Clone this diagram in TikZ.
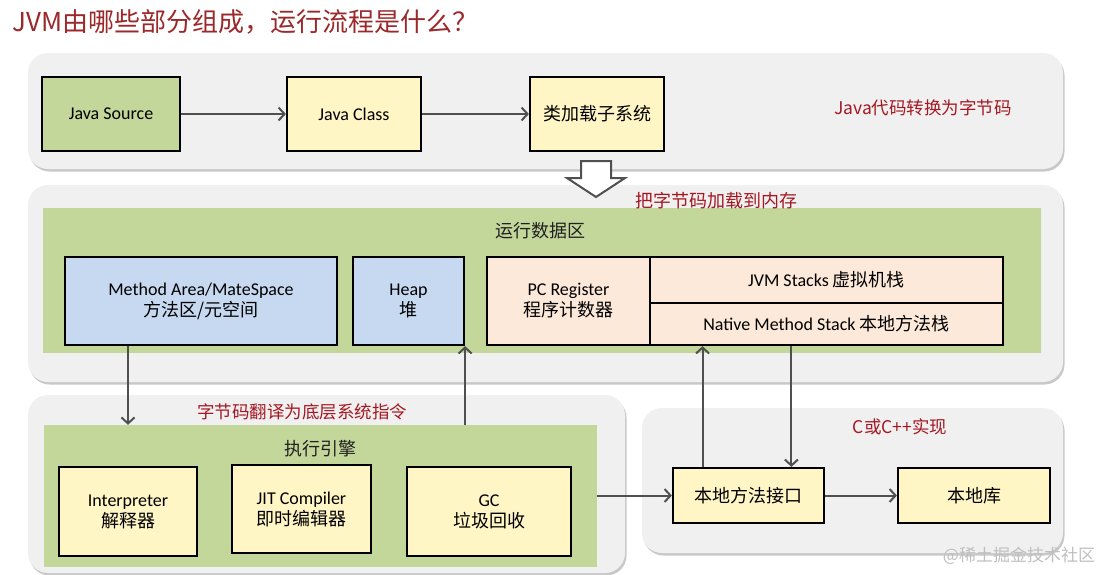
\documentclass[tikz,border=0pt]{standalone}
\usepackage{fontspec}
\setmainfont{Carlito}
\newfontfamily\cjkfont{Noto Sans CJK SC}
\newcommand\zh[1]{{\cjkfont #1}}
\usepackage{tikz}
\usetikzlibrary{arrows.meta,calc,shadows}

\begin{document}
\begin{tikzpicture}[x=1pt,y=-1pt,line join=miter,
		panel/.style={fill=custcol_f0_f0_f0, rounded corners=20pt, inner sep=0, drop shadow={shadow xshift=1.5pt, shadow yshift=-2.5pt, opacity=0.3, fill=black!70}},
		area/.style={fill=custcol_c4_d7_9b, inner sep=0},
		box/.style={draw=black, line width=2.2pt, inner sep=0, align=center, font=\fontsize{18}{21}\selectfont},
		note/.style={text=custcol_a5_18_22, inner sep=0, font=\cjkfont\fontsize{17.5}{20}\selectfont},
		areatitle/.style={inner sep=0, text=custcol_20_20_20, font=\cjkfont\fontsize{18}{20}\selectfont},
		conn/.style={draw=custcol_50_50_50, line width=2pt, -{Straight Barb[length=6pt,width=13pt]}}]
				\definecolor{custcol_f0_f0_f0}{RGB}{240, 240, 240}
				\definecolor{custcol_c4_d7_9b}{RGB}{196, 215, 155}
				\definecolor{custcol_ff_f5_c5}{RGB}{255, 245, 197}
				\definecolor{custcol_c6_d9_f0}{RGB}{198, 217, 240}
				\definecolor{custcol_fd_e9_d9}{RGB}{253, 233, 217}
				\definecolor{custcol_a5_18_22}{RGB}{165, 24, 34}
				\definecolor{custcol_9b_28_2a}{RGB}{155, 40, 42}
				\definecolor{custcol_50_50_50}{RGB}{80, 80, 80}
				\definecolor{custcol_20_20_20}{RGB}{32, 32, 32}
				\useasboundingbox [fill=white] (0,0) rectangle (1105,574);
				\node[inner sep=0, anchor=west, text=custcol_9b_28_2a, font=\cjkfont\fontsize{26}{30}\selectfont] (title) at (12,22) {JVM由哪些部分组成，运行流程是什么？};
				% class loading
				\node[panel, minimum width=1035pt, minimum height=116pt] (loadpanel) at (545.5,111) {};
				\node[box, fill=custcol_c4_d7_9b, minimum width=138pt, minimum height=74pt] (javasrc) at (111,114) {Java Source};
				\node[box, fill=custcol_ff_f5_c5, minimum width=134pt, minimum height=74pt] (javaclass) at (354,114) {Java Class};
				\node[box, fill=custcol_ff_f5_c5, minimum width=134pt, minimum height=74pt] (loader) at (597,114) {\zh{类加载子系统}};
				\node[note] (loadnote) at (923,108) {Java代码转换为字节码};
				% runtime data area
				\node[panel, minimum width=1035pt, minimum height=197pt] (runpanel) at (545.5,283.5) {};
				\node[area, minimum width=998pt, minimum height=145pt] (runarea) at (542,280.5) {};
				\node[areatitle] (runtitle) at (540,231) {运行数据区};
				\node[box, fill=custcol_c6_d9_f0, minimum width=272pt, minimum height=88pt] (method) at (201,301) {Method Area/MateSpace\\\zh{方法区/元空间}};
				\node[box, fill=custcol_c6_d9_f0, minimum width=111pt, minimum height=88pt] (heap) at (408.5,301) {Heap\\\zh{堆}};
				\node[box, fill=custcol_fd_e9_d9, minimum width=163pt, minimum height=88pt] (pcreg) at (568.5,301) {PC Register\\\zh{程序计数器}};
				\node[box, fill=custcol_fd_e9_d9, minimum width=353pt, minimum height=46pt] (jvmstack) at (826.5,280) {JVM Stacks \zh{虚拟机栈}};
				\node[box, fill=custcol_fd_e9_d9, minimum width=353pt, minimum height=42pt] (natstack) at (826.5,324) {Native Method Stack \zh{本地方法栈}};
				\draw[custcol_50_50_50, line width=2pt, fill=white] (581,161) -- (611,161) -- (611,178) -- (625,178) -- (596,197) -- (567,178) -- (581,178) -- cycle;
				\node[note, font=\cjkfont\fontsize{18}{20}\selectfont] (runnote) at (716,201) {把字节码加载到内存};
				% execution engine
				\node[panel, minimum width=597pt, minimum height=178pt] (execpanel) at (326.5,484) {};
				\node[area, minimum width=553pt, minimum height=142pt] (execarea) at (320.5,496) {};
				\node[areatitle] (exectitle) at (320,449) {执行引擎};
				\node[note] (execnote) at (302,412) {字节码翻译为底层系统指令};
				\node[box, fill=custcol_ff_f5_c5, minimum width=138pt, minimum height=89pt] (interp) at (128,511.5) {Interpreter\\\zh{解释器}};
				\node[box, fill=custcol_ff_f5_c5, minimum width=139pt, minimum height=88pt] (jit) at (301.5,509) {JIT Compiler\\\zh{即时编辑器}};
				\node[box, fill=custcol_ff_f5_c5, minimum width=164pt, minimum height=89pt] (gc) at (489,511.5) {GC\\\zh{垃圾回收}};
				% native side
				\node[panel, minimum width=421pt, minimum height=145pt] (nativepanel) at (852.5,480.5) {};
				\node[note] (nativenote) at (900,427) {C或C++实现};
				\node[box, fill=custcol_ff_f5_c5, minimum width=151pt, minimum height=55pt] (nif) at (748.5,495.5) {\zh{本地方法接口}};
				\node[box, fill=custcol_ff_f5_c5, minimum width=152pt, minimum height=55pt] (natlib) at (974,495.5) {\zh{本地库}};
				\coordinate (nifup) at ($(nif.north west)!0.2!(nif.north east)$);
				\coordinate (nifdown) at ($(nif.north west)!0.78!(nif.north east)$);
				\node[inner sep=0, text=black!25, font=\cjkfont\fontsize{17}{20}\selectfont] (mark) at (1019,556) {@稀土掘金技术社区};
				% connectors
				\draw[conn] (javasrc) -- (javaclass);
				\draw[conn] (javaclass) -- (loader);
				\draw[conn] (method.south -| interp) -- (execarea.north -| interp);
				\draw[conn] (execarea.north -| heap.south east) -- (heap.south east);
				\draw[conn] (nifup) -- (nifup |- natstack.south);
				\draw[conn] (natstack.south -| nifdown) -- (nifdown);
				\draw[conn] (execarea.east |- nif) -- (nif);
				\draw[conn] (nif) -- (natlib);
\end{tikzpicture}
\end{document}
